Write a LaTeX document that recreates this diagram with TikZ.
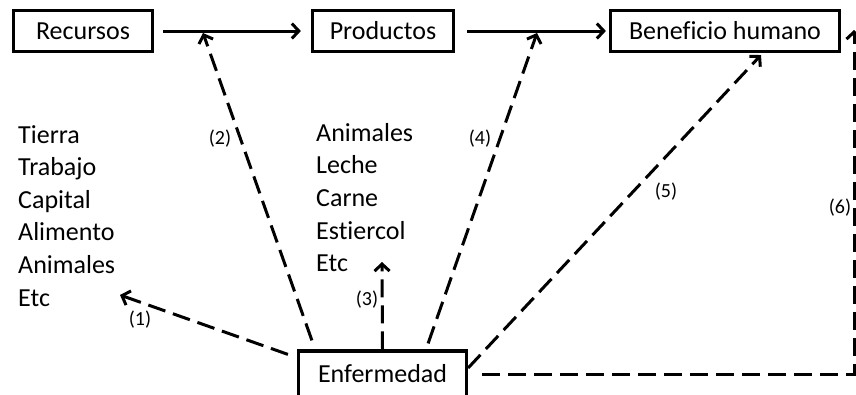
\documentclass[tikz,border=0pt]{standalone}
\usepackage{fontspec}
\setmainfont{Carlito}[Ligatures=NoCommon]
\usetikzlibrary{arrows.meta}

\begin{document}
\begin{tikzpicture}[
    x=1pt, y=-1pt,
    box/.style={rectangle, draw, line width=3.2pt, minimum height=41pt, inner sep=0pt, font=\fontsize{26}{31}\selectfont},
    lista/.style={anchor=north west, align=left, inner sep=0pt, font=\fontsize{26}{32.6}\selectfont},
    etiq/.style={inner sep=0pt, font=\fontsize{20}{24}\selectfont},
    arr/.style={-{Straight Barb[length=7pt, width=15pt]}, line width=3pt},
    trazo/.style={arr, dash pattern=on 18pt off 8pt},
]
    \useasboundingbox (0,0) rectangle (856,394);
    \clip (0,0) rectangle (856,394);

    % cadena principal
    \node[box, minimum width=139pt] (recursos) at (83,31) {Recursos};
    \node[box, minimum width=141pt] (productos) at (383,31) {Productos};
    \node[box, minimum width=229pt] (beneficio) at (725,31) {Beneficio humano};
    \node[box, minimum width=168pt, minimum height=46pt] (enfermedad) at (382.5,374) {Enfermedad};

    % listas
    \node[lista] (insumos) at (18,125) {Tierra\\Trabajo\\Capital\\Alimento\\Animales\\Etc};
    \node[lista] (salidas) at (316,123) {Animales\\Leche\\Carne\\Estiercol\\Etc};

    % puntos de llegada
    \coordinate (p1) at (120,295);
    \coordinate (p2) at (203,33);
    \coordinate (p3) at (382,262);
    \coordinate (p4) at (537,33);
    \coordinate (p5) at (761,55);
    \coordinate (p6) at (854,30);

    \draw[arr] ([xshift=9pt]recursos.east) -- ([xshift=-10pt]productos.west);
    \draw[arr] ([xshift=12pt]productos.east) -- ([xshift=-3pt]beneficio.west);

    \draw[trazo] ([xshift=-9pt, yshift=-5pt]enfermedad.north west) -- (p1);
    \draw[trazo] ([xshift=15pt, yshift=9pt]enfermedad.north west) -- (p2);
    \draw[trazo] (enfermedad.north) -- (p3);
    \draw[trazo] ([xshift=-40pt, yshift=6pt]enfermedad.north east) -- (p4);
    \draw[trazo] ([yshift=6pt]enfermedad.east) -- (p5);
    \draw[trazo] ([xshift=14pt]enfermedad.east) -| (p6);

    % etiquetas
    \node[etiq] (e1) at (140,320) {(1)};
    \node[etiq] (e2) at (220,139) {(2)};
    \node[etiq] (e3) at (367,300) {(3)};
    \node[etiq] (e4) at (480,139) {(4)};
    \node[etiq] (e5) at (666,192) {(5)};
    \node[etiq] (e6) at (840,208) {(6)};
\end{tikzpicture}
\end{document}
